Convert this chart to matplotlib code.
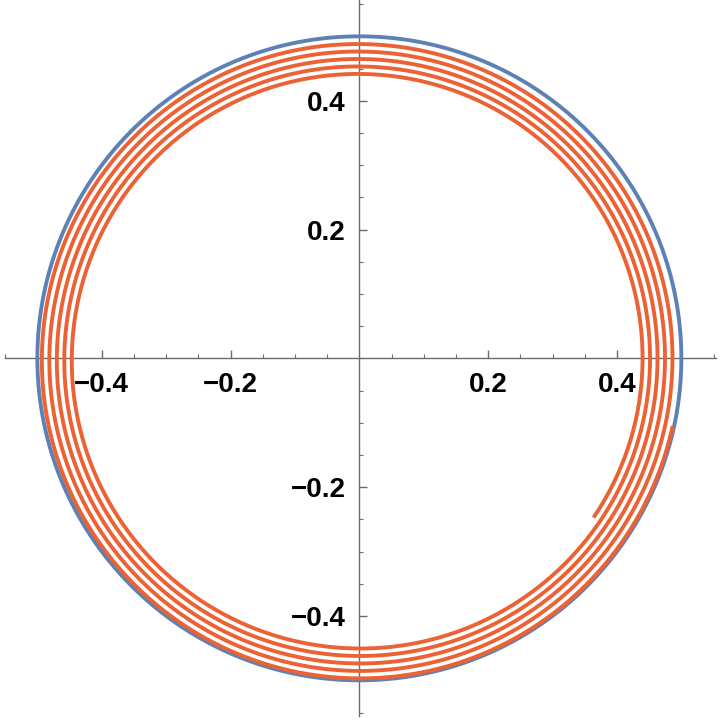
import numpy as np
import matplotlib
matplotlib.use("Agg")
import matplotlib.pyplot as plt
from matplotlib.ticker import MultipleLocator, FuncFormatter

# ---- values ----
circle_radius = 0.5                 # blue reference circle
spiral_center = (-0.0005, -0.0016)  # centre of the orange spiral
spiral_r_at_first_bottom = 0.4954   # radius where the spiral first passes the bottom
spiral_drop_per_turn = 0.0116       # radius lost per clockwise turn
spiral_start_deg = -12.0            # start angle (clockwise, degrees)
spiral_end_deg = -1834.0            # end angle (clockwise, degrees)

major_ticks = [-0.4, -0.2, 0.2, 0.4]
xlim = (-0.558, 0.560)
ylim = (-0.5616, 0.5564)

blue = "#5E81B5"
orange = "#EB6235"
axis_grey = "#6b6b6b"

fig = plt.figure(figsize=(7.2, 7.2), dpi=100)
ax = fig.add_axes([0, 0, 1, 1])
ax.set_xlim(*xlim)
ax.set_ylim(*ylim)
ax.set_aspect("auto")

# blue circle
phi = np.linspace(0, 2 * np.pi, 1000)
ax.plot(circle_radius * np.cos(phi), circle_radius * np.sin(phi),
        color=blue, lw=2.8, solid_capstyle="butt", zorder=2)

# orange spiral (clockwise, shrinking radius)
ang = np.linspace(spiral_start_deg, spiral_end_deg, 4000)
turns_from_bottom = (-90.0 - ang) / 360.0
r = spiral_r_at_first_bottom - spiral_drop_per_turn * turns_from_bottom
xs = spiral_center[0] + r * np.cos(np.radians(ang))
ys = spiral_center[1] + r * np.sin(np.radians(ang))
ax.plot(xs, ys, color=orange, lw=2.8, solid_capstyle="butt", zorder=3)

# Mathematica-style axes through the origin
for s in ["top", "right"]:
    ax.spines[s].set_visible(False)
ax.spines["left"].set_position(("data", 0))
ax.spines["bottom"].set_position(("data", 0))
for s in ["left", "bottom"]:
    ax.spines[s].set_color(axis_grey)
    ax.spines[s].set_linewidth(1.0)
    ax.spines[s].set_zorder(1)
ax.spines["bottom"].set_bounds(-0.550, 0.554)
ax.spines["left"].set_bounds(-0.556, 0.556)

ax.xaxis.set_major_locator(plt.FixedLocator(major_ticks))
ax.yaxis.set_major_locator(plt.FixedLocator(major_ticks))
ax.xaxis.set_minor_locator(MultipleLocator(0.05))
ax.yaxis.set_minor_locator(MultipleLocator(0.05))
fmt = FuncFormatter(lambda v, p: ("\u2212" if v < 0 else "") + f"{abs(v):.1f}")
ax.xaxis.set_major_formatter(fmt)
ax.yaxis.set_major_formatter(fmt)
ax.tick_params(which="major", direction="in", length=5.5, width=1.0,
               color=axis_grey, labelsize=20, pad=10)
ax.tick_params(which="minor", direction="in", length=3, width=0.8,
               color=axis_grey)
for lab in ax.get_xticklabels() + ax.get_yticklabels():
    lab.set_fontweight("bold")
    lab.set_fontfamily("Liberation Sans")
    lab.set_zorder(5)

fig.savefig("out.png", dpi=100)
